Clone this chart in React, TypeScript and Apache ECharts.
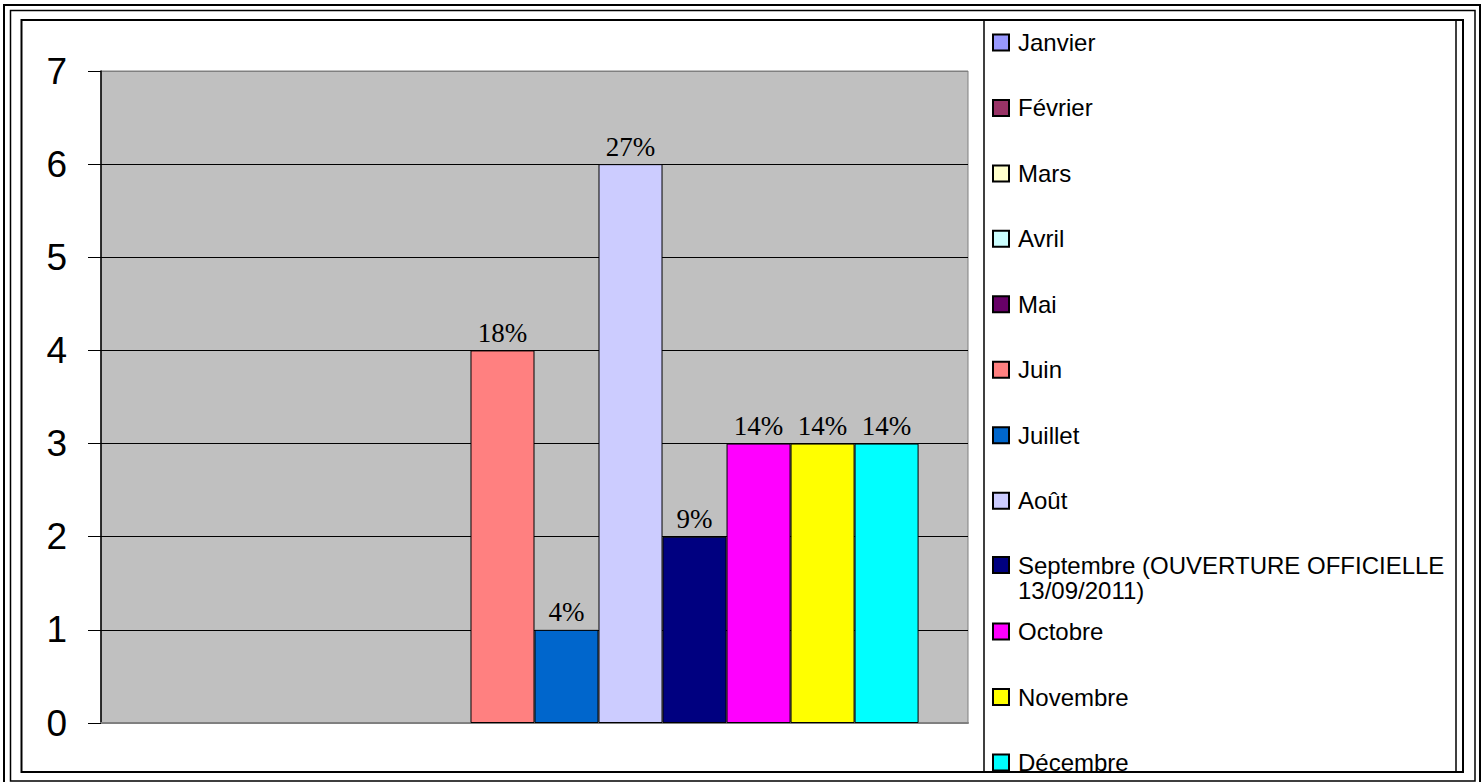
import React, { useEffect, useRef } from "react";
import * as echarts from "echarts";

const months = [
  "Janvier",
  "Février",
  "Mars",
  "Avril",
  "Mai",
  "Juin",
  "Juillet",
  "Août",
  "Septembre (OUVERTURE OFFICIELLE 13/09/2011)",
  "Octobre",
  "Novembre",
  "Décembre",
];
const values = [0, 0, 0, 0, 0, 4, 1, 6, 2, 3, 3, 3];
const percentLabels = ["", "", "", "", "", "18%", "4%", "27%", "9%", "14%", "14%", "14%"];
const colors = [
  "#9999FF",
  "#993366",
  "#FFFFCC",
  "#CCFFFF",
  "#660066",
  "#FF8080",
  "#0066CC",
  "#CCCCFF",
  "#000080",
  "#FF00FF",
  "#FFFF00",
  "#00FFFF",
];
const yMin = 0;
const yMax = 7;
const yInterval = 1;

const SEPT = months[8];

export default function App() {
  const ref = useRef<HTMLDivElement>(null);
  useEffect(() => {
    if (!ref.current) return;
    const chart = echarts.init(ref.current, null, { renderer: "svg" });

    const series = months.map((m, i) => ({
      type: "bar",
      name: m,
      data: [
        values[i] === 0
          ? { value: values[i], itemStyle: { borderWidth: 0 } }
          : { value: values[i] },
      ],
      barGap: "0%",
      barCategoryGap: "11.4%",
      itemStyle: { color: colors[i], borderColor: "#000", borderWidth: 1 },
      label: {
        show: values[i] > 0,
        position: "top",
        distance: 4,
        formatter: () => percentLabels[i],
        fontFamily: "Liberation Serif",
        fontSize: 27,
        color: "#000",
      },
    }));

    const legends = months.map((m, i) => {
      const cy = 41.5 + i * 65.45;
      const isSept = m === SEPT;
      return {
        data: [m],
        orient: "vertical",
        left: 992,
        top: isSept ? cy - 37.5 : cy - 11,
        padding: 0,
        itemWidth: 16,
        itemHeight: 16,
        icon: "rect",
        selectedMode: false,
        formatter: (name: string) =>
          name === SEPT ? "\nSeptembre (OUVERTURE OFFICIELLE\n13/09/2011)" : name,
        textStyle: {
          fontFamily: "Liberation Sans",
          fontSize: 24,
          color: "#000",
          lineHeight: isSept ? 25 : 16,
          padding: [0, 0, 0, 4],
        },
      };
    });

    const splitColors = ["#808080", "#000", "#000", "#000", "#000", "#000", "#000", "#808080"];

    chart.setOption({
      animation: false,
      backgroundColor: "#fff",
      grid: {
        left: 101,
        top: 71,
        width: 867,
        height: 652,
        show: true,
        backgroundColor: "#C0C0C0",
        borderColor: "#808080",
        borderWidth: 1,
      },
      legend: legends,
      xAxis: {
        type: "category",
        data: [""],
        axisLine: { show: true, lineStyle: { color: "#808080", width: 2 } },
        axisTick: { show: false },
        axisLabel: { show: false },
        splitLine: { show: false },
      },
      yAxis: {
        type: "value",
        min: yMin,
        max: yMax,
        interval: yInterval,
        axisLine: { show: true, lineStyle: { color: "#000", width: 1.5 } },
        axisTick: { show: true, length: 13, lineStyle: { color: "#000", width: 1 } },
        axisLabel: {
          margin: 34,
          fontFamily: "Liberation Sans",
          fontSize: 37,
          color: "#000",
        },
        splitLine: { show: true, lineStyle: { color: splitColors, width: 1 } },
      },
      graphic: [
        {
          type: "rect",
          shape: { x: 4, y: 5, width: 1476, height: 782 },
          style: { fill: "none", stroke: "#000", lineWidth: 2 },
          silent: true,
        },
        {
          type: "rect",
          shape: { x: 10.5, y: 10.5, width: 1464.5, height: 770.5 },
          style: { fill: "none", stroke: "#000", lineWidth: 1.5 },
          silent: true,
        },
        {
          type: "rect",
          shape: { x: 21.5, y: 20, width: 1441.5, height: 752 },
          style: { fill: "none", stroke: "#000", lineWidth: 2 },
          silent: true,
        },
        {
          type: "rect",
          shape: { x: 984, y: 20, width: 472, height: 752 },
          style: { fill: "none", stroke: "#000", lineWidth: 1.5 },
          silent: true,
        },
      ],
      series,
    });
    return () => chart.dispose();
  }, []);
  return (
    <div
      ref={ref}
      style={{ position: "fixed", left: 0, top: 0, width: 1484, height: 782, background: "#fff" }}
    />
  );
}
